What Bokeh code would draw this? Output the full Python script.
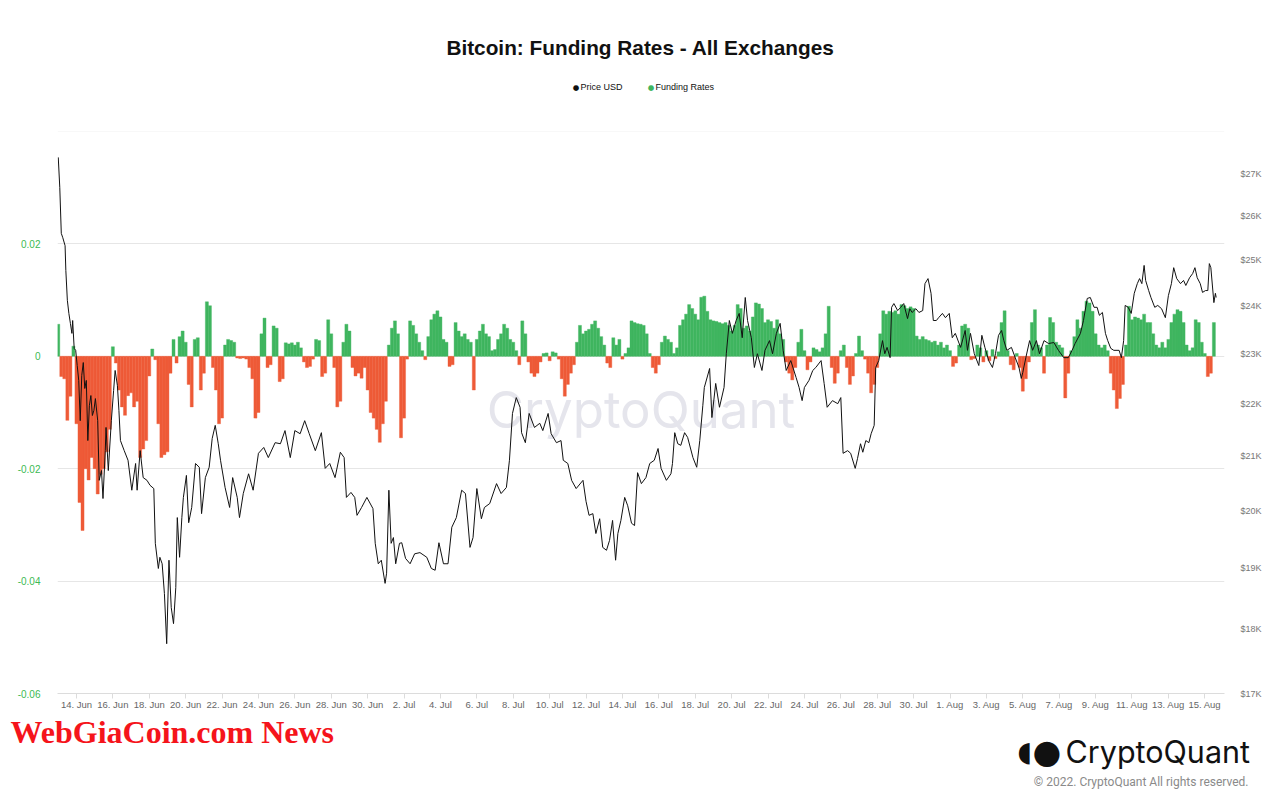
import pandas as pd
from bokeh.plotting import figure
from bokeh.layouts import column
from bokeh.models import (Range1d, LogScale, LogAxis, FixedTicker, CustomJSTickFormatter,
                          Label, Span, ColumnDataSource)
from bokeh.embed import file_html
from bokeh.resources import INLINE

# ---------------- data ----------------
START = "2022-06-13 00:00"          # first hour of both series
FUNDING_STEP_HOURS = 4               # one funding value per 4 hours

# Price USD (hours after START, price)
PRICE_HOURS = [
    0, 2, 4, 6, 9, 10, 12, 14, 16, 18,
    19, 21, 23, 25, 27, 29, 31, 33, 35, 37,
    39, 41, 43, 45, 47, 49, 52, 54, 57, 59,
    62, 63, 66, 70, 73, 75, 78, 80, 82, 87,
    92, 97, 102, 104, 108, 112, 117, 121, 126, 128,
    132, 134, 137, 140, 143, 146, 149, 152, 155, 157,
    160, 163, 165, 169, 172, 176, 181, 186, 189, 194,
    199, 203, 207, 211, 214, 220, 226, 230, 236, 239,
    244, 251, 257, 264, 271, 277, 286, 293, 299, 306,
    312, 319, 325, 331, 339, 347, 352, 358, 365, 372,
    377, 380, 386, 391, 394, 400, 407, 415, 418, 422,
    426, 431, 433, 436, 439, 442, 445, 450, 453, 458,
    464, 470, 477, 486, 492, 497, 502, 508, 514, 519,
    525, 532, 537, 543, 547, 552, 558, 562, 569, 578,
    584, 591, 595, 599, 604, 609, 611, 616, 621, 628,
    635, 639, 646, 650, 657, 663, 666, 672, 677, 683,
    692, 696, 700, 705, 709, 714, 718, 723, 727, 731,
    735, 738, 742, 747, 751, 756, 760, 764, 769, 775,
    780, 786, 791, 795, 802, 808, 810, 813, 817, 821,
    826, 830, 837, 842, 846, 850, 852, 859, 862, 867,
    872, 878, 881, 885, 889, 894, 898, 902, 906, 909,
    914, 918, 922, 928, 932, 938, 942, 947, 952, 956,
    960, 966, 973, 977, 981, 984, 990, 995, 999, 1006,
    1010, 1014, 1021, 1028, 1032, 1035, 1041, 1045, 1051, 1054,
    1058, 1061, 1065, 1069, 1072, 1076, 1078, 1082, 1087, 1090,
    1093, 1097, 1099, 1102, 1107, 1111, 1115, 1120, 1123, 1126,
    1131, 1135, 1140, 1143, 1147, 1151, 1154, 1158, 1161, 1166,
    1170, 1175, 1179, 1183, 1190, 1196, 1199, 1203, 1208, 1214,
    1218, 1222, 1227, 1232, 1236, 1240, 1244, 1247, 1251, 1257,
    1262, 1267, 1270, 1272, 1276, 1281, 1285, 1290, 1294, 1300,
    1306, 1313, 1319, 1326, 1332, 1337, 1341, 1348, 1352, 1357,
    1361, 1366, 1370, 1373, 1377, 1381, 1384, 1388, 1392, 1399,
    1402, 1405, 1407, 1411, 1415, 1419, 1423, 1426, 1429, 1432,
    1434, 1438, 1441, 1446, 1450, 1455, 1460, 1464, 1468, 1471,
    1475, 1480, 1484, 1487, 1492, 1496, 1499, 1502, 1506, 1509,
    1513, 1516, 1518, 1520, 1524, 1526, 1527,
]
PRICE_USD = [
    27390, 26670, 25600, 25500, 25320, 24770, 24120, 23840, 23630, 23420,
    23690, 23110, 23070, 22760, 22460, 21670, 22560, 22820, 22300, 22460,
    21290, 21960, 22160, 21770, 21870, 22100, 21670, 20550, 20730, 20220,
    21100, 21540, 20730, 21670, 22260, 22660, 22360, 21870, 21290, 21100,
    20920, 20370, 20860, 20370, 21100, 20600, 20550, 20460, 20400, 19430,
    19000, 19190, 19080, 18580, 17770, 19140, 18350, 18090, 18680, 19880,
    19190, 19880, 20240, 20640, 19790, 20060, 20860, 20790, 19950, 20600,
    20790, 21330, 21580, 21230, 20920, 20420, 20060, 20600, 20240, 19880,
    20310, 20670, 20370, 21050, 21160, 20970, 21250, 21230, 21480, 20970,
    21480, 21420, 21670, 21420, 21100, 21440, 20770, 20860, 20600, 21070,
    20970, 20240, 20330, 20240, 19920, 20060, 20240, 20040, 19430, 19080,
    19140, 18750, 18920, 20370, 19430, 19530, 19080, 19430, 19440, 19170,
    19080, 19250, 19270, 19190, 19000, 18970, 19440, 19080, 19080, 19710,
    19880, 20370, 20310, 19360, 19530, 20400, 19860, 20060, 20130, 20490,
    20310, 20420, 20920, 21810, 22120, 21930, 21440, 21250, 21810, 21540,
    21620, 21480, 21810, 21420, 21250, 21290, 20920, 20860, 20550, 20400,
    20550, 20170, 19920, 19950, 19600, 19860, 19360, 19310, 19480, 19830,
    19140, 19600, 19830, 20240, 20090, 19780, 19740, 20690, 20490, 20600,
    20860, 20920, 21140, 20770, 20550, 20670, 20860, 21440, 21230, 21200,
    21440, 21350, 20970, 20790, 21290, 21960, 22320, 22700, 21730, 22400,
    21930, 22320, 23000, 23690, 23420, 23690, 23840, 23330, 24180, 23690,
    23330, 22720, 23000, 22660, 23070, 23270, 23000, 23420, 23630, 23070,
    22660, 22860, 22520, 22320, 22060, 22320, 22460, 22660, 22720, 22860,
    22400, 21930, 22060, 22000, 22120, 21050, 21100, 21050, 20770, 20950,
    21230, 21070, 21290, 21250, 21420, 21580, 22720, 22860, 23270, 23000,
    23130, 22920, 23970, 24050, 23900, 23970, 24050, 23730, 23940, 23860,
    23940, 23860, 23900, 24480, 24590, 24270, 23690, 23690, 23750, 23840,
    23750, 23840, 23330, 23420, 23130, 23480, 23070, 23420, 23000, 22760,
    23380, 23130, 22860, 22720, 23000, 23380, 23480, 23270, 23070, 23130,
    22920, 22720, 22500, 22620, 22920, 23270, 23070, 23270, 23000, 23270,
    23210, 23230, 23070, 22920, 22920, 23070, 23210, 23420, 23690, 24160,
    24180, 23970, 23970, 23800, 23860, 23420, 23270, 23110, 23070, 23070,
    22920, 23270, 24010, 23970, 23840, 24270, 24480, 24590, 24480, 24880,
    24550, 24330, 24180, 23970, 24010, 23940, 23750, 24220, 24480, 24830,
    24590, 24480, 24550, 24440, 24610, 24700, 24830, 24610, 24480, 24290,
    24330, 24330, 24920, 24830, 24070, 24270, 24180,
]

# Funding rates, one value per 4 hours from START (6 per day)
FUNDING = [
    0.0057, -0.0036, -0.004, -0.0114, -0.0071, 0.0018,        # 13 Jun
    -0.012, -0.026, -0.031, -0.02, -0.022, -0.018,           # 14 Jun
    -0.02, -0.0245, -0.021, -0.02, -0.017, -0.013,           # 15 Jun
    0.0017, -0.0012, -0.006, -0.009, -0.0105, -0.007,        # 16 Jun
    -0.0065, -0.009, -0.008, -0.018, -0.0165, -0.015,        # 17 Jun
    -0.0035, 0.0013, -0.0006, -0.012, -0.018, -0.0175,       # 18 Jun
    -0.017, -0.003, 0.003, -0.0012, 0.0035, 0.0045,          # 19 Jun
    0.0025, -0.005, -0.009, 0.003, 0.0033, -0.006,           # 20 Jun
    -0.003, 0.0097, 0.009, -0.002, -0.006, -0.012,           # 21 Jun
    -0.011, 0.002, 0.003, 0.0028, 0.0025, -0.0003,           # 22 Jun
    -0.0004, -0.0003, -0.0005, -0.002, -0.004, -0.011,       # 23 Jun
    -0.01, 0.004, 0.0068, -0.002, -0.0015, 0.0054,           # 24 Jun
    0.005, -0.0045, -0.004, 0.0024, 0.0022, 0.0024,          # 25 Jun
    0.002, 0.0025, 0.0015, -0.001, -0.002, -0.0018,          # 26 Jun
    -0.0005, 0.003, 0.0028, -0.0036, -0.003, 0.0065,         # 27 Jun
    0.004, -0.002, -0.009, -0.008, 0.0025, 0.0057,           # 28 Jun
    0.0045, -0.002, -0.0035, -0.003, -0.0039, -0.002,        # 29 Jun
    -0.006, -0.01, -0.011, -0.013, -0.0153, -0.012,          # 30 Jun
    -0.008, 0.002, 0.005, 0.0063, 0.004, -0.0145,            # 1 Jul
    -0.011, -0.0005, 0.0063, 0.0055, 0.004, 0.0025,          # 2 Jul
    0.001, -0.0006, 0.0035, 0.0065, 0.0075, 0.0081,          # 3 Jul
    0.007, 0.003, 0.0025, -0.0018, -0.0015, 0.006,           # 4 Jul
    0.0045, 0.0035, 0.004, 0.003, 0.0025, -0.006,            # 5 Jul
    0.003, 0.0045, 0.0057, 0.004, 0.0035, 0.001,             # 6 Jul
    0.0012, 0.003, 0.004, 0.0057, 0.005, 0.003,              # 7 Jul
    0.0025, 0.001, -0.0015, 0.0063, 0.004, -0.001,           # 8 Jul
    -0.003, -0.0036, -0.003, -0.001, 0.0005, 0.0006,         # 9 Jul
    -0.0008, 0.0008, 0.0006, -0.0005, -0.004, -0.0071,       # 10 Jul
    -0.005, -0.003, -0.0015, 0.0025, 0.0055, 0.004,          # 11 Jul
    0.0045, 0.0048, 0.0057, 0.0063, 0.005, 0.0035,           # 12 Jul
    0.002, -0.0012, -0.002, 0.0033, 0.002, 0.003,            # 13 Jul
    -0.0005, 0.0005, 0.0015, 0.0063, 0.006, 0.0058,          # 14 Jul
    0.0057, 0.0055, 0.004, 0.0005, -0.002, -0.003,           # 15 Jul
    -0.0015, 0.0025, 0.0036, 0.003, 0.0025, 0.0005,          # 16 Jul
    0.0015, 0.0055, 0.0065, 0.0075, 0.0092, 0.0085,          # 17 Jul
    0.0075, 0.0065, 0.0105, 0.0107, 0.008, 0.0065,           # 18 Jul
    0.0063, 0.0062, 0.006, 0.0058, 0.006, 0.0055,            # 19 Jul
    0.0045, 0.0055, 0.0092, 0.0085, 0.005, 0.0054,           # 20 Jul
    0.0045, 0.007, 0.0095, 0.0093, 0.0085, 0.006,            # 21 Jul
    0.0065, 0.0062, 0.005, 0.0065, 0.004, 0.003,             # 22 Jul
    -0.001, -0.003, -0.0042, -0.002, 0.0025, 0.0048,         # 23 Jul
    0.001, -0.0024, -0.001, 0.0015, 0.0012, 0.0008,          # 24 Jul
    0.0015, 0.004, 0.0089, -0.002, -0.0048, -0.003,          # 25 Jul
    0.001, 0.002, -0.002, -0.005, -0.0035, 0.0005,           # 26 Jul
    0.0036, 0.001, -0.0005, -0.003, -0.0065, -0.005,         # 27 Jul
    -0.002, 0.004, 0.0081, 0.0075, 0.008, 0.0078,            # 28 Jul
    0.0081, 0.0075, 0.0092, 0.009, 0.0085, 0.0088,           # 29 Jul
    0.0085, 0.0036, 0.003, 0.0035, 0.003, 0.0028,            # 30 Jul
    0.0025, 0.0027, 0.002, 0.0025, 0.0015, 0.002,            # 31 Jul
    0.001, -0.0018, -0.0012, 0.002, 0.0054, 0.0057,          # 1 Aug
    0.005, -0.0006, -0.0004, 0.002, 0.0015, -0.001,          # 2 Aug
    0.001, -0.0008, 0.0012, -0.0004, 0.0008, 0.006,          # 3 Aug
    0.0081, 0.001, -0.0015, -0.0024, 0.0005, -0.002,         # 4 Aug
    -0.0062, -0.004, -0.001, 0.006, 0.0083, 0.002,           # 5 Aug
    0.0015, -0.003, 0.002, 0.0069, 0.006, 0.0025,            # 6 Aug
    0.002, 0.0015, -0.0074, -0.003, 0.001, 0.0035,           # 7 Aug
    0.0065, 0.005, 0.008, 0.0098, 0.0095, 0.008,             # 8 Aug
    0.004, 0.002, 0.0015, 0.002, 0.001, -0.003,              # 9 Aug
    -0.006, -0.0093, -0.0075, -0.005, 0.002, 0.0089,         # 10 Aug
    0.0065, 0.007, 0.0068, 0.0065, 0.0075, 0.006,            # 11 Aug
    0.006, 0.004, 0.002, 0.0015, 0.0025, 0.0015,             # 12 Aug
    0.003, 0.006, 0.0075, 0.0083, 0.008, 0.006,              # 13 Aug
    0.002, 0.001, 0.0015, 0.0065, 0.006, 0.0025,             # 14 Aug
    0.0005, -0.0036, -0.003, 0.006,                          # 15 Aug
]

FUNDING_TICKS = [-0.06, -0.04, -0.02, 0.0, 0.02]
PRICE_TICKS = [17000, 18000, 19000, 20000, 21000, 22000, 23000, 24000, 25000, 26000, 27000]
DATE_TICKS = pd.date_range("2022-06-14", "2022-08-15", freq="2D")

TITLE = "Bitcoin: Funding Rates - All Exchanges"
LEGEND = ["Price USD", "Funding Rates"]
BRAND = "CryptoQuant"
WATERMARK_SITE = "WebGiaCoin.com News"
COPYRIGHT = "\u00A9 2022. CryptoQuant All rights reserved."

# ---------------- styling ----------------
GREEN = "#3fb55f"
RED = "#ee5a37"
GRID = "#e6e6e6"
FONT = "Liberation Sans"
W = 1264
HEAD_H = 121
TICK_OUT = 5
MAIN_BOTTOM = TICK_OUT + 14          # tick marks + one line of tick labels
MAIN_H = 10 + 562 + MAIN_BOTTOM      # top border + frame + bottom border
FOOT_H = 800 - HEAD_H - MAIN_H
FRAME_L, FRAME_R = 57, 1226          # page x of the chart frame


def blank(height, y_top):
    """A figure without axes whose data units are page pixels (y grows downward)."""
    f = figure(width=W, height=height, y_range=Range1d(y_top + height, y_top),
               output_backend="svg", toolbar_location=None,
               x_axis_location=None, y_axis_location=None, min_border=0)
    if "frame_align" in f.properties():
        f.frame_align = False
        f.x_range = Range1d(0, W)
    else:
        f.x_range = Range1d(FRAME_L, FRAME_R)
    f.outline_line_color = None
    f.grid.visible = False
    f.background_fill_color = "white"
    f.border_fill_color = "white"
    return f


def lab(f, x, y, text, size, color="#111111", style="normal", align="left",
        font=FONT, baseline="middle"):
    f.add_layout(Label(x=x, y=y, text=text, text_font=font, text_font_size=size,
                       text_font_style=style, text_color=color, text_align=align,
                       text_baseline=baseline))


# ---------------- header ----------------
head = blank(HEAD_H, 0)
lab(head, 640, 47, TITLE, "20.8px", style="bold", align="center")
lab(head, 575.5, 86.5, "\u25CF", "7.5px", color="#111111", align="center", font="DejaVu Sans")
lab(head, 580, 86, LEGEND[0], "9px")
lab(head, 650.5, 86.5, "\u25CF", "7.5px", color=GREEN, align="center", font="DejaVu Sans")
lab(head, 655, 86, LEGEND[1], "9px")

# ---------------- main chart ----------------
start = pd.Timestamp(START)
price_t = [start + pd.Timedelta(hours=h) for h in PRICE_HOURS]
fund_t = [start + pd.Timedelta(hours=FUNDING_STEP_HOURS * i) for i in range(len(FUNDING))]
src = ColumnDataSource(dict(
    x=fund_t, top=FUNDING,
    color=[GREEN if v >= 0 else RED for v in FUNDING],
))

x_start = start - pd.Timedelta(hours=1)
x_end = start + pd.Timedelta(hours=1538)

p = figure(width=W, height=MAIN_H, x_axis_type="datetime",
           x_range=Range1d(x_start, x_end), y_range=Range1d(-0.06, 0.04),
           output_backend="svg", toolbar_location=None,
           min_border_left=FRAME_L, min_border_right=W - FRAME_R,
           min_border_top=10, min_border_bottom=MAIN_BOTTOM)
p.outline_line_color = None
p.background_fill_color = "white"
p.border_fill_color = "white"

p.extra_y_ranges = {"price": Range1d(17000, 28028)}
p.extra_y_scales = {"price": LogScale()}

fticker = FixedTicker(ticks=FUNDING_TICKS)
p.xgrid.visible = False
p.ygrid.ticker = fticker
p.ygrid.grid_line_color = GRID
p.add_layout(Span(location=0.04, dimension="width", line_color="#f1f1f1", line_width=1))

la = p.left[0]
la.ticker = fticker
la.formatter = CustomJSTickFormatter(code="return Math.abs(tick) < 1e-9 ? '0' : tick.toFixed(2);")
la.axis_line_color = None
la.major_tick_line_color = None
la.minor_tick_line_color = None
la.major_label_text_color = "#3cba54"
la.major_label_text_font = FONT
la.major_label_text_font_size = "10px"
la.major_label_standoff = 11

ba = p.below[0]
ba.ticker = FixedTicker(ticks=[t.value / 1e6 for t in DATE_TICKS])
ba.formatter = CustomJSTickFormatter(code="""
const m = ['Jan','Feb','Mar','Apr','May','Jun','Jul','Aug','Sep','Oct','Nov','Dec'];
const d = new Date(tick);
return d.getUTCDate() + '. ' + m[d.getUTCMonth()];
""")
ba.axis_line_color = "#dcdcdc"
ba.major_tick_line_color = "#dcdcdc"
ba.major_tick_out = TICK_OUT
ba.major_tick_in = 0
ba.minor_tick_line_color = None
ba.major_label_text_color = "#666666"
ba.major_label_text_font = FONT
ba.major_label_text_font_size = "9.5px"
ba.major_label_standoff = 0

ra = LogAxis(y_range_name="price", ticker=FixedTicker(ticks=PRICE_TICKS),
             formatter=CustomJSTickFormatter(code="return '$' + Math.round(tick/1000) + 'K';"))
ra.axis_line_color = None
ra.major_tick_line_color = None
ra.minor_tick_line_color = None
ra.major_label_text_color = "#777777"
ra.major_label_text_font = FONT
ra.major_label_text_font_size = "9px"
ra.major_label_standoff = 10
p.add_layout(ra, "right")

# watermark (position in data units of the chart)
xs_ms = x_start.value / 1e6
xe_ms = x_end.value / 1e6
wm_x = xs_ms + (487 - FRAME_L) / (FRAME_R - FRAME_L) * (xe_ms - xs_ms)
wm_y = 0.04 - (409 - 131) / 562 * 0.1
p.add_layout(Label(x=wm_x, y=wm_y, text=BRAND, text_font="Inter",
                   text_font_size="51px", text_color="#e5e5ec", text_baseline="middle",
                   text_align="left", level="underlay"))

p.vbar(x="x", top="top", bottom=0, width=FUNDING_STEP_HOURS * 3600 * 1000,
       fill_color="color", line_color="color", line_width=0.4, source=src)
p.line(price_t, PRICE_USD, y_range_name="price", line_color="#111111", line_width=1)

# ---------------- footer ----------------
FOOT_TOP = HEAD_H + MAIN_H
foot = blank(FOOT_H, FOOT_TOP)
lab(foot, 10, FOOT_TOP + 1, WATERMARK_SITE, "32px", color="#f5141b", style="bold",
    font="Liberation Serif", baseline="top")
lab(foot, 1017, 751, "\u25D6", "28px", color="#111111", font="DejaVu Sans")
lab(foot, 1032, 751, "\u25CF", "33px", color="#111111", font="DejaVu Sans")
lab(foot, 1065, 751, BRAND, "30.5px", color="#111111", font="Inter")
lab(foot, 1248, 781, COPYRIGHT, "12px", color="#8a8a8a", align="right", font="Roboto")

layout = column(head, p, foot, spacing=0)
open("out.html", "w").write(file_html(layout, INLINE))
